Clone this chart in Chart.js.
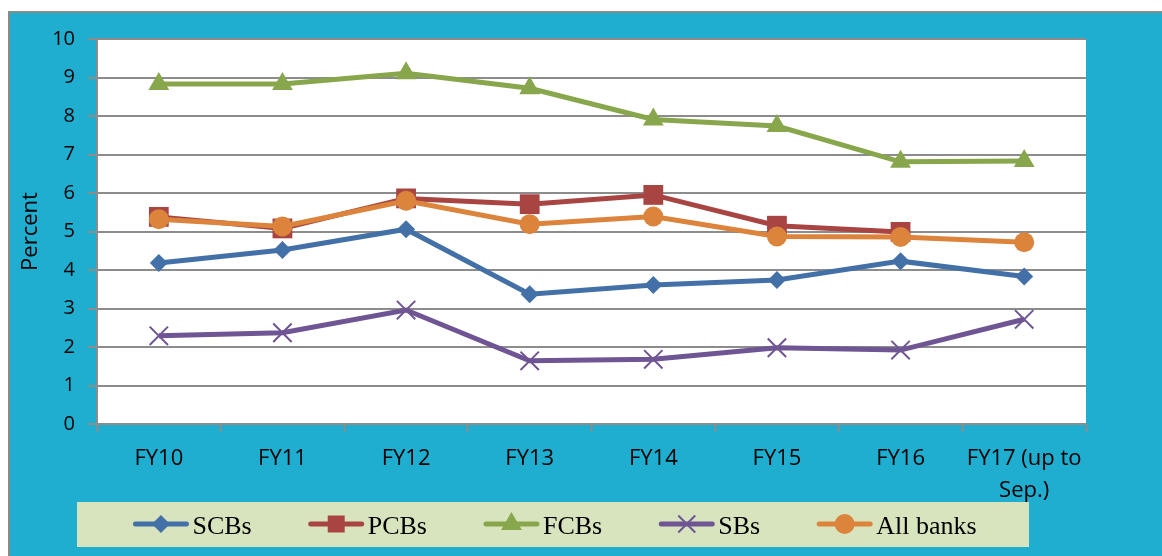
<!DOCTYPE html>
<html>
<head>
<meta charset="utf-8">
<title>Percent by bank group</title>
<script src="https://cdn.jsdelivr.net/npm/chart.js@4.4.1/dist/chart.umd.min.js"></script>
<style>
  html, body { margin: 0; padding: 0; background: #ffffff; }
  #wrap { position: relative; width: 1162px; height: 556px; }
  canvas { display: block; }
</style>
</head>
<body>
<div id="wrap"><canvas id="chart" width="1162" height="556"></canvas></div>
<script>
// Fiscal years on the x axis (last one wraps onto two lines)
const categories = ['FY10', 'FY11', 'FY12', 'FY13', 'FY14', 'FY15', 'FY16', ['FY17 (up to', 'Sep.)']];
const yTicks = [0, 1, 2, 3, 4, 5, 6, 7, 8, 9, 10];

// Series values, percent
const scbs     = [4.18, 4.52, 5.06, 3.37, 3.61, 3.74, 4.23, 3.83];
const pcbs     = [5.38, 5.08, 5.86, 5.71, 5.95, 5.15, 4.99, null];
const fcbs     = [8.83, 8.83, 9.11, 8.72, 7.91, 7.74, 6.81, 6.83];
const sbs      = [2.29, 2.37, 2.96, 1.64, 1.68, 1.98, 1.92, 2.72];
const allBanks = [5.32, 5.13, 5.80, 5.19, 5.39, 4.87, 4.86, 4.72];

const seriesNames = ['SCBs', 'PCBs', 'FCBs', 'SBs', 'All banks'];

const GRID = '#8c8c8c';
const FRAME = '#1fadd0';
const TICK_FONT = "'Open Sans', 'Liberation Sans', sans-serif";
const LEGEND_FONT = "'Liberation Serif', 'DejaVu Serif', serif";

function series(label, data, color, style, radius, order, extra) {
  return Object.assign({
    label, data, order,
    borderColor: color,
    backgroundColor: color,
    borderWidth: 5,
    tension: 0,
    pointStyle: style,
    pointRadius: radius,
    pointHoverRadius: radius,
    pointBackgroundColor: color,
    pointBorderColor: color,
    pointBorderWidth: 0,
    spanGaps: false
  }, extra || {});
}

// Blue frame behind everything, white plot area
const framePlugin = {
  id: 'frame',
  beforeDraw(chart) {
    const { ctx, chartArea: a } = chart;
    ctx.save();
    ctx.fillStyle = '#ffffff';
    ctx.fillRect(0, 0, chart.width, chart.height);
    ctx.fillStyle = FRAME;
    ctx.fillRect(8, 11, chart.width - 8, chart.height - 11);
    ctx.strokeStyle = '#8a8a8a';
    ctx.lineWidth = 2;
    ctx.beginPath();
    ctx.moveTo(9, chart.height);
    ctx.lineTo(9, 12);
    ctx.lineTo(chart.width, 12);
    ctx.stroke();
    ctx.fillStyle = '#ffffff';
    ctx.fillRect(a.left, a.top, a.right - a.left, a.bottom - a.top);
    ctx.restore();
  }
};

// Legend strip under the axis: line + marker + serif label for each series
const legendPlugin = {
  id: 'stripLegend',
  afterDraw(chart) {
    const { ctx } = chart;
    const box = { x: 77, y: 502, w: 952, h: 45 };
    const lineLen = 55, textGap = 4, itemGap = 57;
    ctx.save();
    ctx.fillStyle = '#d8e4bd';
    ctx.fillRect(box.x, box.y, box.w, box.h);
    ctx.font = '26px ' + LEGEND_FONT;
    const items = chart.data.datasets.map(ds => ({ ds, tw: ctx.measureText(ds.label).width }));
    let total = 0;
    items.forEach((it, i) => { total += lineLen + textGap + it.tw + (i < items.length - 1 ? itemGap : 0); });
    let x = box.x + (box.w - total) / 2 + 2;
    const cy = box.y + 22;
    items.forEach(({ ds, tw }) => {
      ctx.strokeStyle = ds.borderColor;
      ctx.lineWidth = 5;
      ctx.lineCap = 'round';
      ctx.beginPath();
      ctx.moveTo(x + 2, cy);
      ctx.lineTo(x + lineLen - 2, cy);
      ctx.stroke();
      ctx.lineCap = 'butt';
      ctx.fillStyle = ds.pointBackgroundColor;
      ctx.strokeStyle = ds.pointBorderColor;
      ctx.lineWidth = ds.pointBorderWidth;
      Chart.helpers.drawPoint(ctx, {
        pointStyle: ds.pointStyle,
        radius: Math.min(ds.pointRadius, 12),
        rotation: 0,
        borderWidth: ds.pointBorderWidth
      }, x + lineLen / 2, cy);
      ctx.fillStyle = '#000000';
      ctx.textBaseline = 'alphabetic';
      ctx.textAlign = 'left';
      ctx.fillText(ds.label, x + lineLen + textGap, cy + 10);
      x += lineLen + textGap + tw + itemGap;
    });
    ctx.restore();
  }
};

// Lower "order" is drawn later, so All banks sits on top of PCBs
const datasets = [
  series(seriesNames[0], scbs, '#4470a8', 'rectRot', 9, 5),
  series(seriesNames[1], pcbs, '#a84542', 'rect', 14, 4),
  series(seriesNames[2], fcbs, '#88a64c', 'triangle', 12, 3),
  series(seriesNames[3], sbs, '#6f5593', 'crossRot', 13, 2, { pointBorderWidth: 2 }),
  series(seriesNames[4], allBanks, '#dc833c', 'circle', 10, 1)
];

new Chart(document.getElementById('chart'), {
  type: 'line',
  data: { labels: categories, datasets },
  plugins: [framePlugin, legendPlugin],
  options: {
    responsive: false,
    animation: false,
    devicePixelRatio: 1,
    layout: { padding: { left: 0, top: 39, right: 76, bottom: 0 } },
    plugins: {
      legend: { display: false },
      tooltip: { enabled: false }
    },
    scales: {
      x: {
        type: 'category',
        offset: true,
        grid: {
          offset: true,
          drawOnChartArea: false,
          drawTicks: true,
          tickLength: 8,
          tickColor: GRID,
          tickWidth: 2
        },
        border: { display: true, color: GRID, width: 2 },
        ticks: {
          color: '#000000',
          padding: 11,
          maxRotation: 0,
          autoSkip: false,
          font: { family: TICK_FONT, size: 22, lineHeight: 1.45 }
        },
        afterFit(scale) { scale.height = 132; }
      },
      y: {
        min: 0,
        max: 10,
        afterBuildTicks(scale) { scale.ticks = yTicks.map(v => ({ value: v })); },
        grid: {
          color: GRID,
          lineWidth: 2,
          drawTicks: true,
          tickLength: 9,
          tickColor: GRID,
          tickWidth: 2
        },
        border: { display: true, color: GRID, width: 2 },
        ticks: {
          color: '#000000',
          padding: 13,
          font: { family: TICK_FONT, size: 20 }
        },
        title: {
          display: true,
          text: 'Percent',
          color: '#000000',
          padding: { top: 18, bottom: 0 },
          font: { family: TICK_FONT, size: 22 }
        },
        afterFit(scale) { scale.width = 97; }
      }
    }
  }
});
</script>
</body>
</html>
